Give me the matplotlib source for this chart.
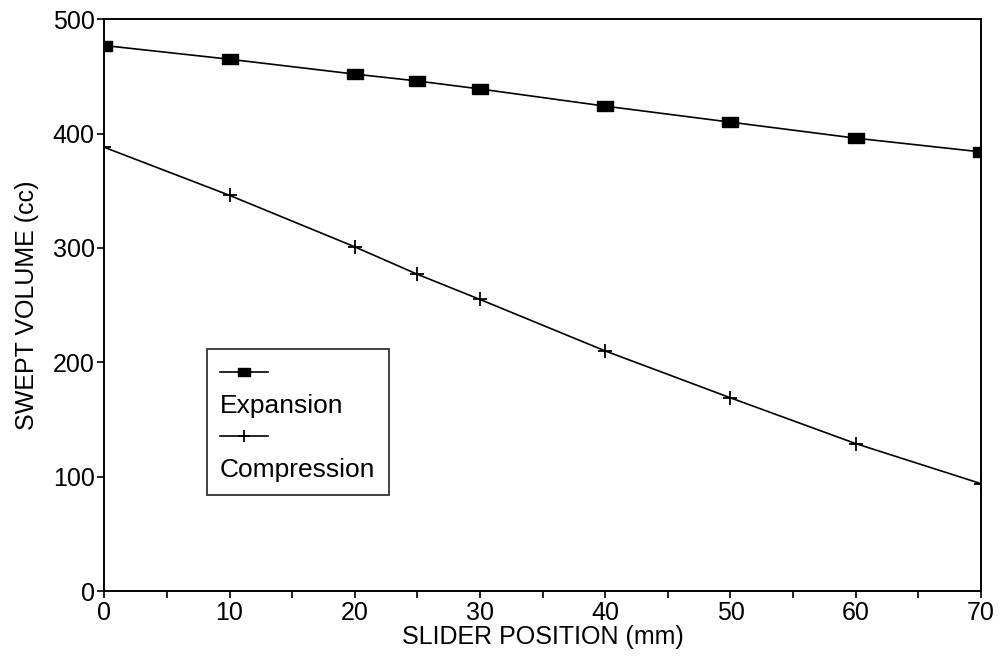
import matplotlib.pyplot as plt
from matplotlib.lines import Line2D
from matplotlib.ticker import MultipleLocator

plt.rcParams['font.family'] = ['Liberation Sans', 'DejaVu Sans']

slider = [0, 10, 20, 25, 30, 40, 50, 60, 70]
expansion = [477, 465, 452, 446, 439, 424, 410, 396, 384]
compression = [388, 346, 301, 277, 255, 210, 169, 129, 94]

# slightly wide filled rectangle marker as in the original plot
rect = [(-1.4, -1), (1.4, -1), (1.4, 1), (-1.4, 1), (-1.4, -1)]

fig = plt.figure(figsize=(10.03, 6.62), dpi=100)
ax = fig.add_axes([0.104, 0.107, 0.874, 0.864])

line_exp, = ax.plot(slider, expansion, color='black', lw=1.2,
                    marker=rect, ms=11, mfc='black', mec='black')
line_comp, = ax.plot(slider, compression, color='black', lw=1.2,
                     marker='+', ms=10, mew=1.3)

ax.set_xlim(0, 70)
ax.set_ylim(0, 500)
ax.xaxis.set_major_locator(MultipleLocator(10))
ax.xaxis.set_minor_locator(MultipleLocator(5))
ax.yaxis.set_major_locator(MultipleLocator(100))
ax.tick_params(which='both', direction='out', length=5, width=1.2,
               labelsize=18, pad=2, color='black')
for s in ax.spines.values():
    s.set_linewidth(1.4)

ax.set_xlabel('SLIDER POSITION (mm)', fontsize=18, labelpad=0)
ax.set_ylabel('SWEPT VOLUME (cc)', fontsize=18, labelpad=10)

blank = Line2D([], [], color='none')
leg = ax.legend([line_exp, blank, line_comp, blank],
                ['', 'Expansion', '', 'Compression'],
                loc='lower left', bbox_to_anchor=(0.117, 0.168),
                fontsize=19, frameon=True, fancybox=False, edgecolor='black',
                handlelength=1.8, handletextpad=-1.8, labelspacing=0.3,
                borderpad=0.5, borderaxespad=0, markerscale=0.8)
leg.get_frame().set_linewidth(1.3)

fig.savefig('out.png', dpi=100)
